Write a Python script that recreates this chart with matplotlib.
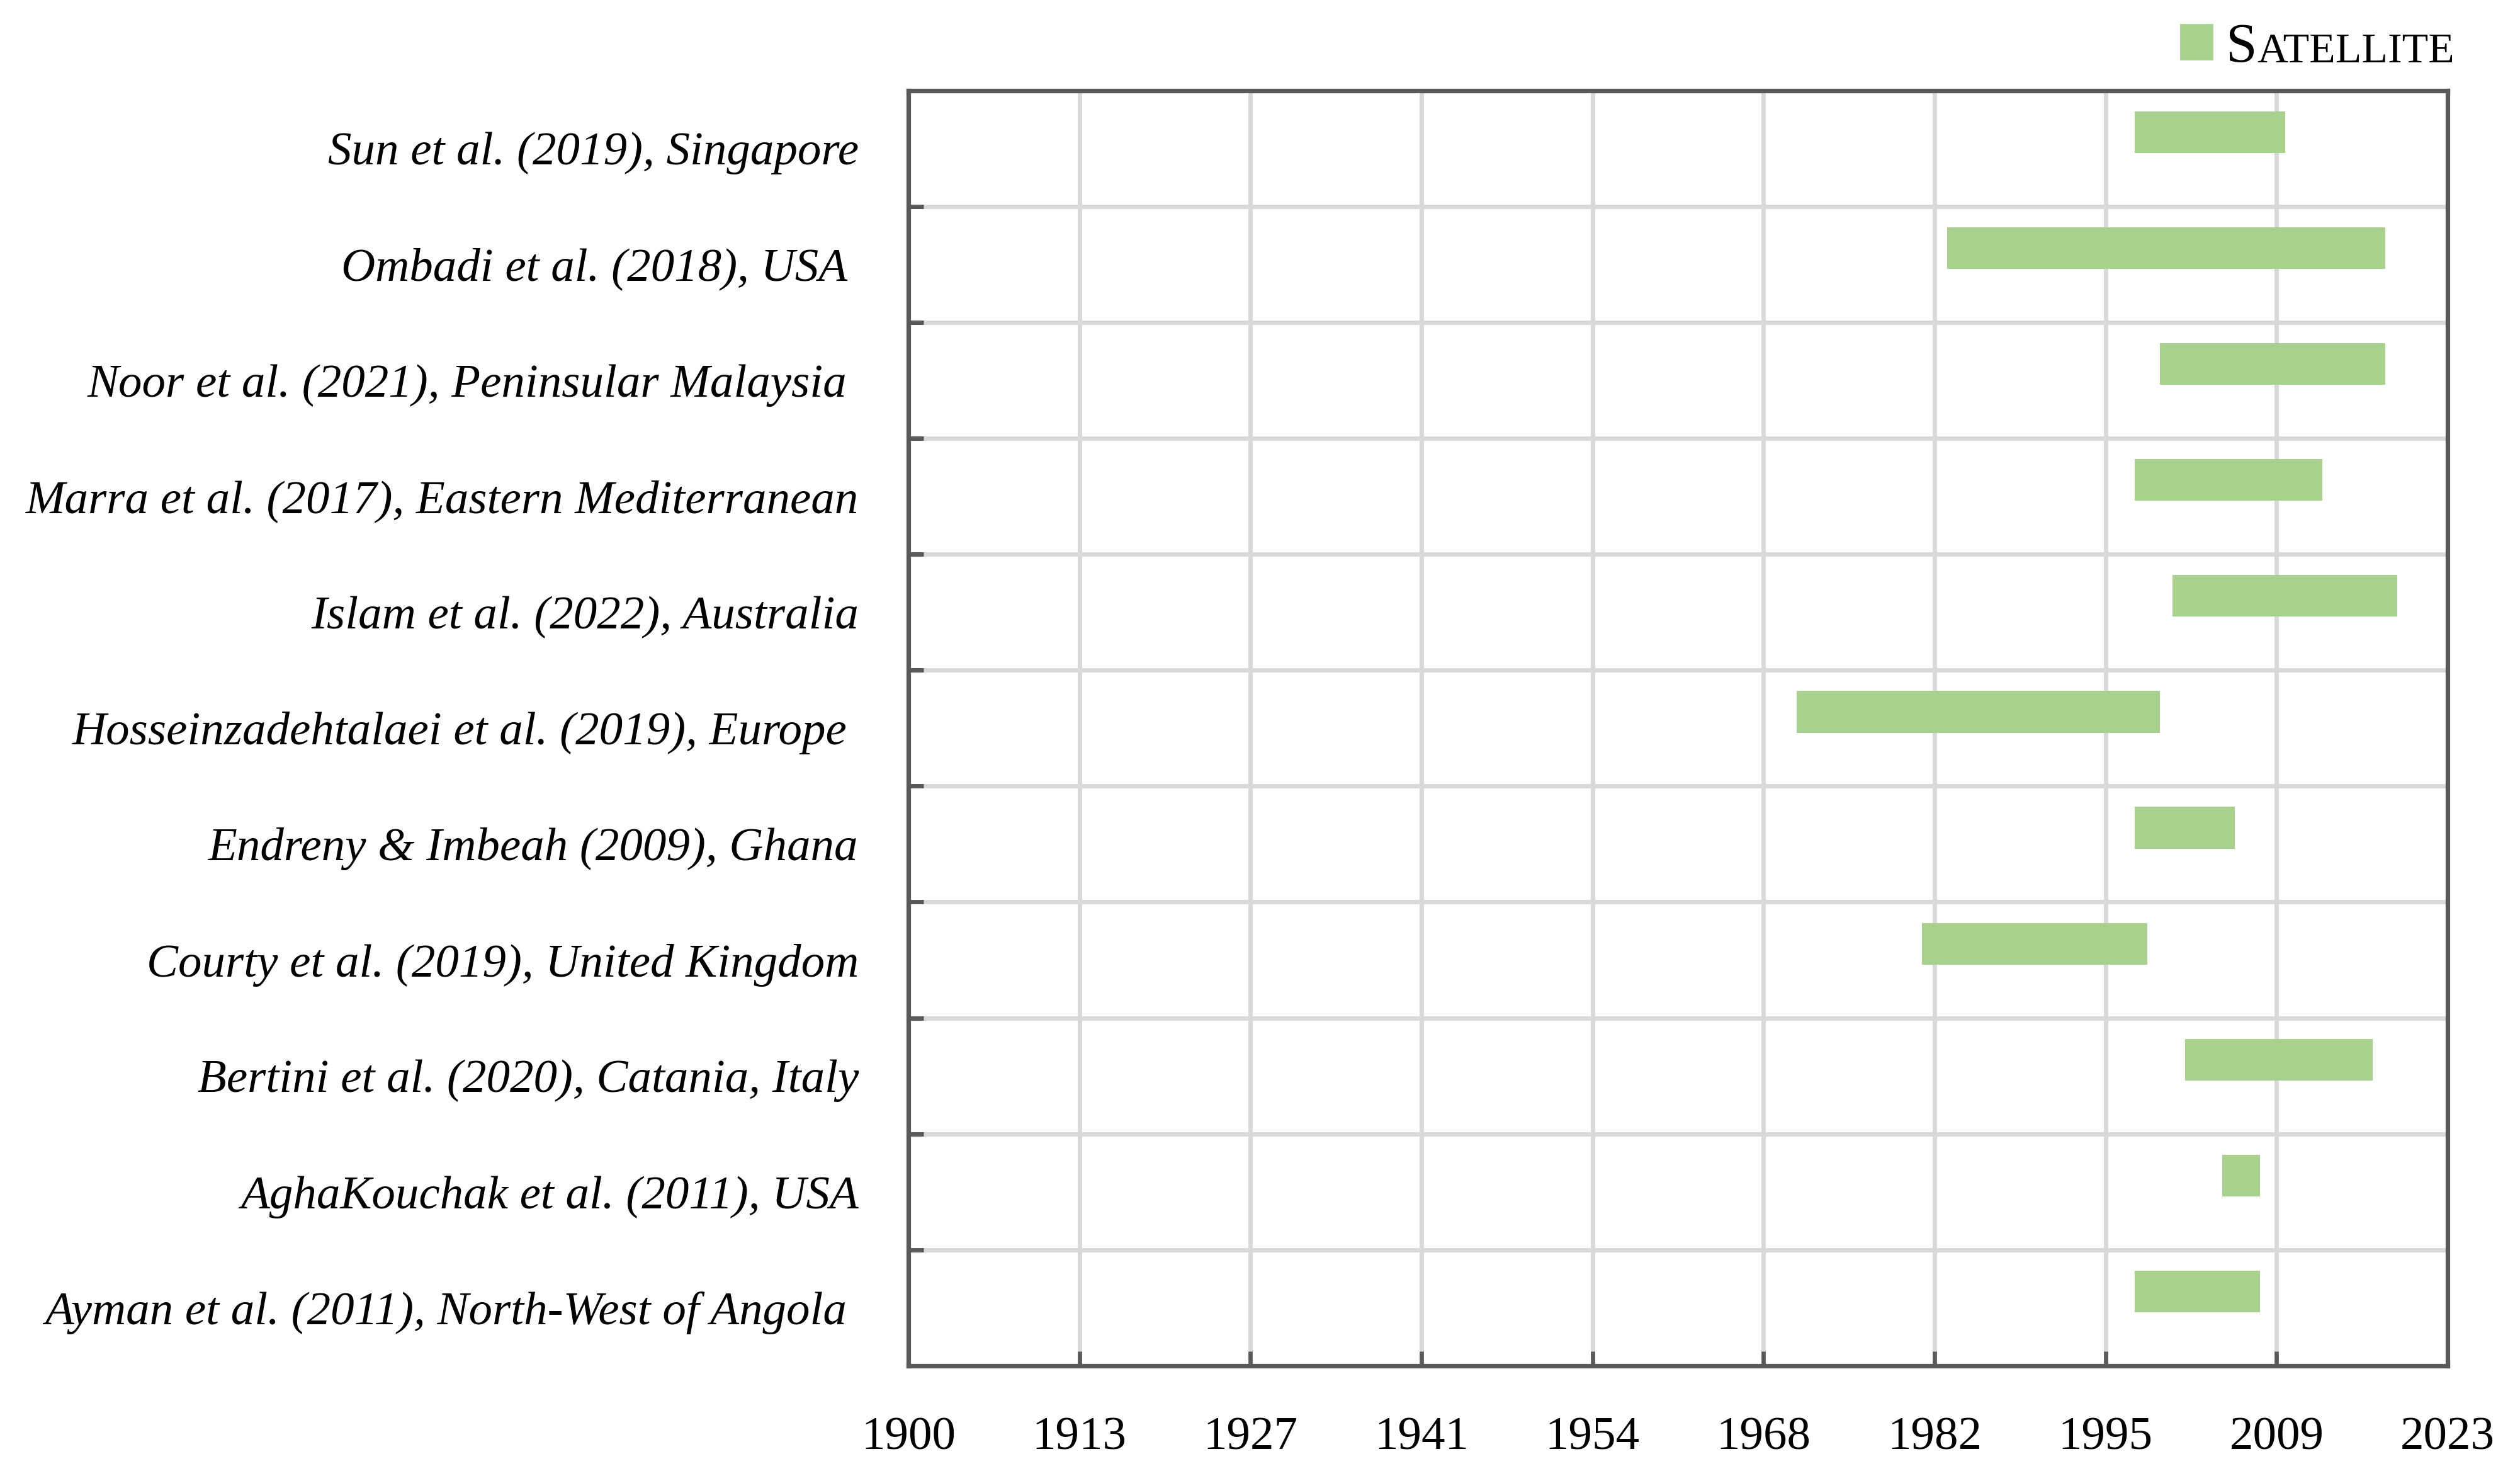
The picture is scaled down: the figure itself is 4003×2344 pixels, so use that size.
"""
Satellite record periods used in each study (horizontal range bars).
"""

import numpy as np
import matplotlib
matplotlib.use("Agg")
import matplotlib.pyplot as plt
from matplotlib.patches import Patch
from matplotlib.text import Annotation

# ── Data ──────────────────────────────────────────────────────────
studies = [
    "Sun et al. (2019), Singapore",
    "Ombadi et al. (2018), USA ",
    "Noor et al. (2021), Peninsular Malaysia ",
    "Marra et al. (2017), Eastern Mediterranean",
    "Islam et al. (2022), Australia",
    "Hosseinzadehtalaei et al. (2019), Europe ",
    "Endreny & Imbeah (2009), Ghana",
    "Courty et al. (2019), United Kingdom",
    "Bertini et al. (2020), Catania, Italy",
    "AghaKouchak et al. (2011), USA",
    "Ayman et al. (2011), North-West of Angola ",
]
start_year = [1998, 1983, 2000, 1998, 2001, 1971, 1998, 1981, 2002, 2005, 1998]
end_year   = [2010, 2018, 2018, 2013, 2019, 2000, 2006, 1999, 2017, 2008, 2008]

x_ticks = np.linspace(1900, 2023, 10)
x_tick_labels = ["1900", "1913", "1927", "1941", "1954",
                 "1968", "1982", "1995", "2009", "2023"]

GREEN = "#a9d18e"
GRID = "#d9d9d9"
SPINE = "#595959"
SERIF = "Liberation Serif"

# ── Figure ────────────────────────────────────────────────────────
W, H, DPI = 4003, 2344, 200
fig = plt.figure(figsize=(W / DPI, H / DPI), dpi=DPI)
ax = fig.add_axes([1443 / W, 1 - 2169 / H,
                   (3888 - 1443) / W, (2169 - 143.5) / H])

y = np.arange(len(studies))
dur = np.array(end_year) - np.array(start_year)
ax.barh(y - 0.14, dur, left=start_year, height=0.36,
        color=GREEN, zorder=3, label="Satellite")

ax.set_xlim(1900, 2023)
ax.set_ylim(len(studies) - 0.5, -0.5)

ax.set_xticks(x_ticks)
ax.set_xticklabels(x_tick_labels, family=SERIF, fontsize=27)
ax.set_yticks(y)
ax.set_yticklabels(studies, family=SERIF, style="italic", fontsize=27)
ax.set_yticks(np.arange(-0.5, len(studies) + 0.5), minor=True)

ax.tick_params(axis="y", which="major", length=0, pad=28.5)
ax.tick_params(axis="y", which="minor", direction="in", length=8.6,
               width=2.5, color=SPINE)
ax.tick_params(axis="x", which="major", direction="in", length=8.3,
               width=2.4, color=SPINE, pad=29)

ax.grid(axis="x", which="major", color=GRID, lw=2.5)
ax.grid(axis="y", which="minor", color=GRID, lw=2.5)
ax.set_axisbelow(True)

for sp in ax.spines.values():
    sp.set_color(SPINE)
    sp.set_linewidth(2.6)

# ── Legend (small caps "SATELLITE") ───────────────────────────────
leg = fig.legend(handles=[Patch(color=GREEN)], labels=["S"],
                 loc="upper left",
                 bbox_to_anchor=(3464 / W, 1 - 36 / H),
                 frameon=False, borderpad=0, borderaxespad=0,
                 handlelength=0.56, handleheight=0.58, handletextpad=0.25,
                 prop={"family": SERIF, "size": 32})
rest = Annotation("ATELLITE", xy=(1, 0), xycoords=leg.get_texts()[0],
                  xytext=(0, 1.4), textcoords="offset points",
                  va="bottom", ha="left", family=SERIF, fontsize=24.5)
rest.set_zorder(6)
fig.add_artist(rest)

fig.savefig("out.png", dpi=DPI)
